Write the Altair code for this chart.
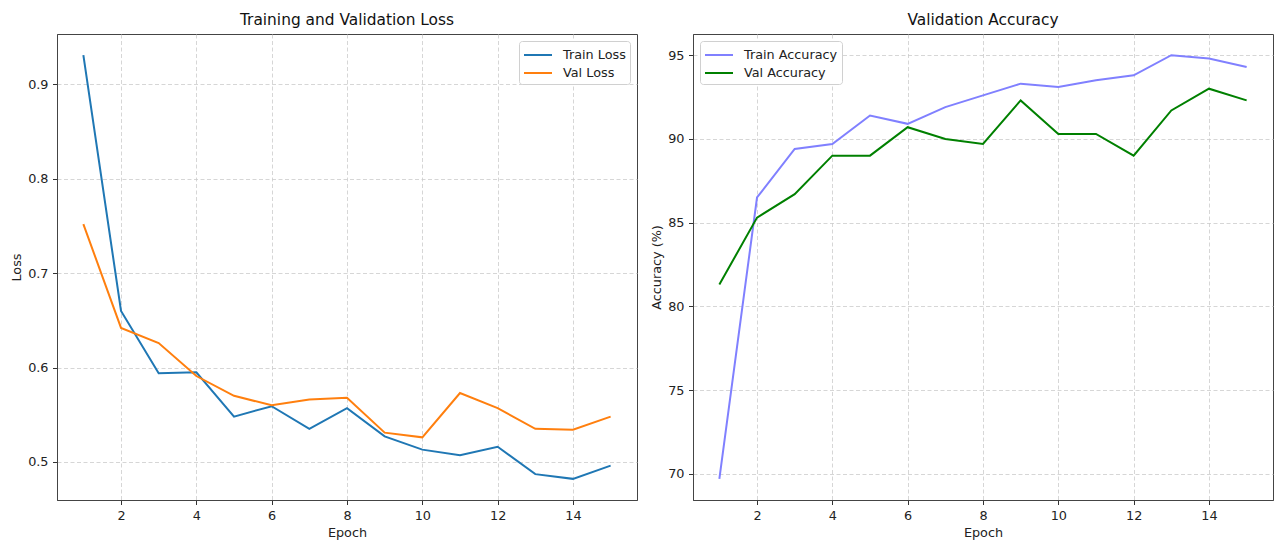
import altair as alt
import pandas as pd

epochs = list(range(1, 16))
train_loss = [0.931, 0.660, 0.594, 0.595, 0.548, 0.559, 0.535, 0.557, 0.527, 0.513, 0.507, 0.516, 0.487, 0.482, 0.496]
val_loss = [0.752, 0.642, 0.626, 0.591, 0.570, 0.560, 0.566, 0.568, 0.531, 0.526, 0.573, 0.557, 0.535, 0.534, 0.548]
train_acc = [69.7, 86.5, 89.4, 89.7, 91.4, 90.9, 91.9, 92.6, 93.3, 93.1, 93.5, 93.8, 95.0, 94.8, 94.3]
val_acc = [81.3, 85.3, 86.7, 89.0, 89.0, 90.7, 90.0, 89.7, 92.3, 90.3, 90.3, 89.0, 91.7, 93.0, 92.3]

x_ticks = [2, 4, 6, 8, 10, 12, 14]
loss_ticks = [0.5, 0.6, 0.7, 0.8, 0.9]
acc_ticks = [70, 75, 80, 85, 90, 95]

loss_df = pd.DataFrame({
    "Epoch": epochs * 2,
    "Value": train_loss + val_loss,
    "Series": ["Train Loss"] * 15 + ["Val Loss"] * 15,
})
acc_df = pd.DataFrame({
    "Epoch": epochs * 2,
    "Value": train_acc + val_acc,
    "Series": ["Train Accuracy"] * 15 + ["Val Accuracy"] * 15,
})

W, H = 580, 466
FONT = "DejaVu Sans"
FS = 12.8

def x_enc():
    return alt.X("Epoch:Q", scale=alt.Scale(domain=[0.3, 15.7], nice=False, zero=False),
                 axis=alt.Axis(values=x_ticks, title="Epoch", format="d"))

def legend(orient):
    return alt.Legend(title=None, orient=orient, fillColor="white", strokeColor="#d0d0d0",
                      padding=4, cornerRadius=3, offset=7,
                      symbolType="M-1,0H2.11", symbolStrokeWidth=2, symbolSize=324,
                      labelOffset=20, labelFontSize=FS, rowPadding=1)

loss_chart = alt.Chart(loss_df).mark_line(strokeWidth=2, clip=True).encode(
    x=x_enc(),
    y=alt.Y("Value:Q", scale=alt.Scale(domain=[0.4596, 0.9535], nice=False, zero=False),
            axis=alt.Axis(values=loss_ticks, title="Loss", format=".1f")),
    color=alt.Color("Series:N", scale=alt.Scale(domain=["Train Loss", "Val Loss"],
                                                range=["#1f77b4", "#ff7f0e"]),
                    legend=legend("top-right")),
).properties(width=W, height=H, title="Training and Validation Loss")

acc_chart = alt.Chart(acc_df).mark_line(strokeWidth=2, clip=True).encode(
    x=x_enc(),
    y=alt.Y("Value:Q", scale=alt.Scale(domain=[68.435, 96.265], nice=False, zero=False),
            axis=alt.Axis(values=acc_ticks, title="Accuracy (%)", format="d")),
    color=alt.Color("Series:N", scale=alt.Scale(domain=["Train Accuracy", "Val Accuracy"],
                                                range=["#8080ff", "#008000"]),
                    legend=legend("top-left")),
).properties(width=W, height=H, title="Validation Accuracy")

chart = alt.hconcat(loss_chart, acc_chart, spacing=11).resolve_scale(color="independent").properties(
    padding={"left": 9, "top": 12, "right": 2, "bottom": 0},
    background="white",
).configure_view(
    stroke="#444444", strokeWidth=1
).configure_axis(
    grid=True, gridDash=[4, 2.5], gridColor="#cccccc", gridWidth=0.8,
    domainColor="#444444", tickColor="#333333", tickSize=4.5,
    labelFont=FONT, titleFont=FONT, labelFontSize=FS, titleFontSize=FS,
    labelColor="#222222", titleColor="#222222", titleFontWeight="normal",
    labelPadding=4.5, titlePadding=4.5,
).configure_title(
    font=FONT, fontSize=15.4, fontWeight="normal", color="#111111", offset=6,
).configure_legend(
    labelFont=FONT, labelColor="#222222",
)

chart.save("out.html", embed_options={"renderer": "svg", "actions": False})
